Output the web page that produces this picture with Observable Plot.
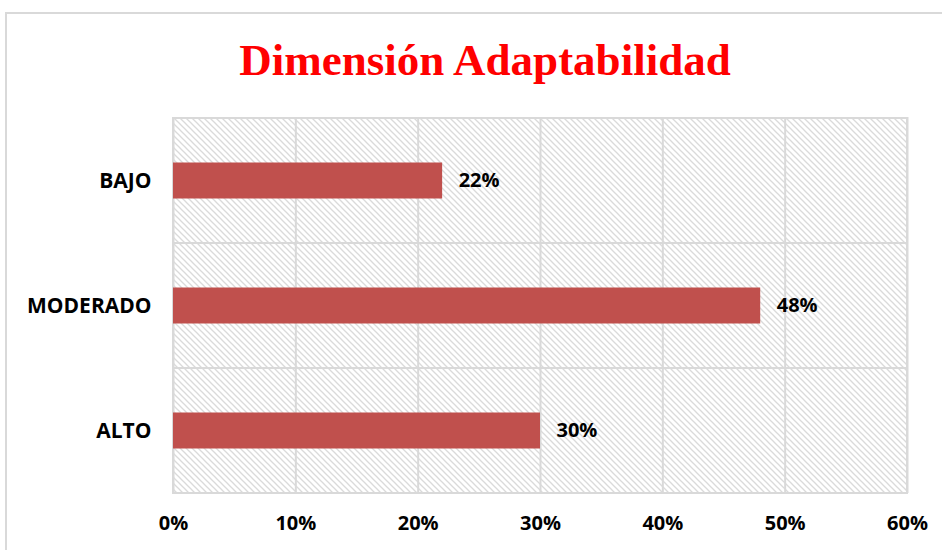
<!DOCTYPE html>
<html>
<head>
<meta charset="utf-8">
<script src="https://cdn.jsdelivr.net/npm/d3@7"></script>
<script src="https://cdn.jsdelivr.net/npm/@observablehq/plot@0.6"></script>
<style>
  body { margin: 0; background: #fff; width: 942px; height: 550px; overflow: hidden; position: relative; }
  #frame { position: absolute; left: 5px; top: 12px; width: 1000px; height: 600px; border: 2px solid #d9d9d9; box-sizing: border-box; }
  #title { position: absolute; left: 0; top: 32px; width: 970px; text-align: center;
    font-family: "Liberation Serif", "DejaVu Serif", serif; font-weight: bold; font-size: 45px; color: #ff0000; line-height: 56px; }
  #chart { position: absolute; left: 0; top: 100px; }
</style>
</head>
<body>
<div id="frame"></div>
<div id="title">Dimensión Adaptabilidad</div>
<div id="chart"></div>
<script>
const categories = ["BAJO", "MODERADO", "ALTO"];
const values = [0.22, 0.48, 0.30];
const xTicks = [0, 0.1, 0.2, 0.3, 0.4, 0.5, 0.6];
const xMax = 0.6;

const data = categories.map((c, i) => ({category: c, value: values[i]}));

const font = "'Open Sans', Lato, 'Liberation Sans', sans-serif";

const plot = Plot.plot({
  width: 942,
  height: 450,
  marginLeft: 173,
  marginRight: 35,
  marginTop: 17,
  marginBottom: 57,
  style: {fontFamily: font, fontSize: "20px", color: "#000", background: "transparent"},
  x: {domain: [0, xMax], ticks: xTicks, tickFormat: d3.format(".0%")},
  y: {domain: categories, padding: 0},
  marks: [
    Plot.barX(categories, {y: d => d, x1: 0, x2: xMax, fill: "url(#hatch)", stroke: "#d9d9d9", strokeWidth: 2}),
    Plot.ruleX(xTicks, {stroke: "#d9d9d9", strokeWidth: 2}),
    Plot.barX(data, {y: "category", x: "value", fill: "#c0504d", insetTop: 44.5, insetBottom: 44.5}),
    Plot.text(data, {y: "category", x: "value", text: d => d3.format(".0%")(d.value), textAnchor: "start", dx: 16, fontSize: 20, fontWeight: "bold", fill: "#000"}),
    Plot.axisX({ticks: xTicks, tickFormat: d3.format(".0%"), tickSize: 0, tickPadding: 22, fontSize: 20, fontWeight: "bold", label: null}),
    Plot.axisY({tickSize: 0, tickPadding: 22, fontSize: 21, fontWeight: "bold", label: null})
  ]
});

const ns = "http://www.w3.org/2000/svg";
const defs = document.createElementNS(ns, "defs");
const pat = document.createElementNS(ns, "pattern");
pat.setAttribute("id", "hatch");
pat.setAttribute("patternUnits", "userSpaceOnUse");
pat.setAttribute("width", "6");
pat.setAttribute("height", "6");
const bg = document.createElementNS(ns, "rect");
bg.setAttribute("width", "6"); bg.setAttribute("height", "6"); bg.setAttribute("fill", "#fff");
pat.appendChild(bg);
[["-1","-1","7","7"],["-4","2","1","7"],["2","-4","7","1"]].forEach(([x1,y1,x2,y2]) => {
  const l = document.createElementNS(ns, "line");
  l.setAttribute("x1", x1); l.setAttribute("y1", y1); l.setAttribute("x2", x2); l.setAttribute("y2", y2);
  l.setAttribute("stroke", "#dadada"); l.setAttribute("stroke-width", "1.3");
  pat.appendChild(l);
});
defs.appendChild(pat);
plot.insertBefore(defs, plot.firstChild);

document.getElementById("chart").appendChild(plot);
</script>
</body>
</html>
